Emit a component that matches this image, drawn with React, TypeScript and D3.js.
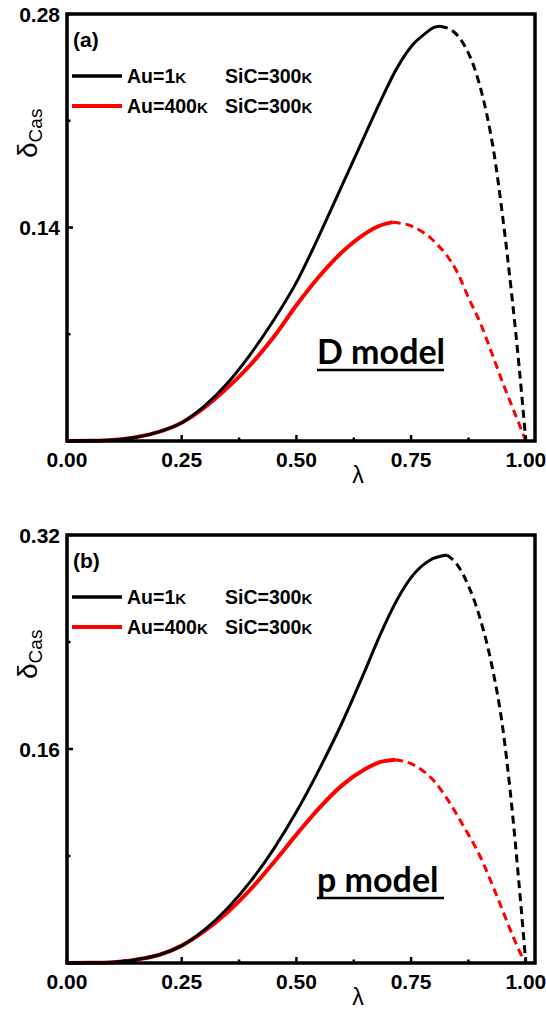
import React from "react";
import * as d3 from "d3";

// ---------- data ----------
const xTickValues = [0, 0.25, 0.5, 0.75, 1.0];
const xTickLabels = ["0.00", "0.25", "0.50", "0.75", "1.00"];
const xMinorTicks = [0.125, 0.375, 0.625, 0.875];

const yTicksA = [0.14, 0.28];
const yTickLabelsA = ["0.14", "0.28"];
const yMinorA = [0.07, 0.21];

const yTicksB = [0.16, 0.32];
const yTickLabelsB = ["0.16", "0.32"];
const yMinorB = [0.08, 0.24];

const legendNames = ["Au=1", "Au=400"];
const legendSiC = "SiC=300";

// Panel (a): D model
const aAu1SolidLam = [0, 0.05, 0.1, 0.125, 0.15, 0.2, 0.25, 0.3, 0.35, 0.4, 0.45, 0.5, 0.55, 0.6, 0.65, 0.682, 0.72, 0.754, 0.78, 0.8, 0.813];
const aAu1SolidVal = [0, 0.0001, 0.0006, 0.0013, 0.0025, 0.006, 0.012, 0.023, 0.038, 0.057, 0.079, 0.104, 0.135, 0.168, 0.201, 0.222, 0.245, 0.26, 0.267, 0.2712, 0.272];
const aAu1DashLam = [0.813, 0.84, 0.861, 0.894, 0.915, 0.93, 0.95, 0.97, 0.985, 1.0];
const aAu1DashVal = [0.272, 0.269, 0.262, 0.239, 0.214, 0.19, 0.146, 0.094, 0.05, 0];
const aAu400SolidLam = [0, 0.05, 0.1, 0.125, 0.15, 0.2, 0.25, 0.3, 0.35, 0.4, 0.45, 0.5, 0.55, 0.6, 0.65, 0.68, 0.71];
const aAu400SolidVal = [0, 0.0001, 0.0006, 0.0013, 0.0025, 0.006, 0.012, 0.022, 0.035, 0.05, 0.068, 0.089, 0.108, 0.124, 0.136, 0.141, 0.1435];
const aAu400DashLam = [0.71, 0.75, 0.8, 0.85, 0.878, 0.9, 0.929, 0.95, 0.975, 1.0];
const aAu400DashVal = [0.1435, 0.141, 0.131, 0.111, 0.092, 0.078, 0.055, 0.038, 0.019, 0];

// Panel (b): p model
const bAu1SolidLam = [0, 0.05, 0.1, 0.125, 0.15, 0.2, 0.25, 0.3, 0.35, 0.4, 0.45, 0.5, 0.55, 0.6, 0.65, 0.682, 0.72, 0.754, 0.79, 0.828];
const bAu1SolidVal = [0, 0.0001, 0.0006, 0.0013, 0.0025, 0.006, 0.013, 0.025, 0.041, 0.061, 0.085, 0.113, 0.145, 0.18, 0.219, 0.245, 0.272, 0.29, 0.301, 0.305];
const bAu1DashLam = [0.828, 0.85, 0.875, 0.9, 0.925, 0.95, 0.97, 0.985, 1.0];
const bAu1DashVal = [0.305, 0.298, 0.282, 0.258, 0.224, 0.175, 0.115, 0.06, 0];
const bAu400SolidLam = [0, 0.05, 0.1, 0.125, 0.15, 0.2, 0.25, 0.3, 0.35, 0.4, 0.45, 0.5, 0.55, 0.6, 0.65, 0.68, 0.715];
const bAu400SolidVal = [0, 0.0001, 0.0006, 0.0013, 0.0025, 0.006, 0.013, 0.024, 0.038, 0.055, 0.075, 0.096, 0.116, 0.133, 0.145, 0.15, 0.152];
const bAu400DashLam = [0.715, 0.75, 0.8, 0.83, 0.863, 0.9, 0.937, 0.972, 0.99, 1.0];
const bAu400DashVal = [0.152, 0.149, 0.136, 0.122, 0.103, 0.08, 0.05, 0.02, 0.006, 0];

const zip = (xs: number[], ys: number[]) => xs.map((x, i) => [x, ys[i]] as [number, number]);

const panels = [
  {
    tag: "(a)",
    model: "D model",
    yMax: 0.28,
    yTicks: yTicksA,
    yTickLabels: yTickLabelsA,
    yMinor: yMinorA,
    top: 14,
    bottom: 441,
    au1Solid: zip(aAu1SolidLam, aAu1SolidVal),
    au1Dash: zip(aAu1DashLam, aAu1DashVal),
    au400Solid: zip(aAu400SolidLam, aAu400SolidVal),
    au400Dash: zip(aAu400DashLam, aAu400DashVal),
    modelBaselineOffset: 77,
  },
  {
    tag: "(b)",
    model: "p model",
    yMax: 0.32,
    yTicks: yTicksB,
    yTickLabels: yTickLabelsB,
    yMinor: yMinorB,
    top: 535,
    bottom: 963,
    au1Solid: zip(bAu1SolidLam, bAu1SolidVal),
    au1Dash: zip(bAu1DashLam, bAu1DashVal),
    au400Solid: zip(bAu400SolidLam, bAu400SolidVal),
    au400Dash: zip(bAu400DashLam, bAu400DashVal),
    modelBaselineOffset: 71,
  },
];

const LEFT = 67;
const RIGHT = 535;
const X_MAX = 1.02;
const RED = "#ff0000";
const TICK_FONT = "'Liberation Sans', Arial, sans-serif";

type Panel = (typeof panels)[number];

function PanelView({ p }: { p: Panel }) {
  const x = d3.scaleLinear().domain([0, X_MAX]).range([LEFT, RIGHT]);
  const y = d3.scaleLinear().domain([0, p.yMax]).range([p.bottom, p.top]);
  const line = d3
    .line<[number, number]>()
    .x((d) => x(d[0]))
    .y((d) => y(d[1]))
    .curve(d3.curveMonotoneX);

  const legendY1 = p.top + 62;
  const legendY2 = p.top + 92;
  const modelY = p.bottom - p.modelBaselineOffset;
  const modelX = 317;

  return (
    <g>
      {/* curves */}
      <path d={line(p.au400Solid) || ""} fill="none" stroke={RED} strokeWidth={4} />
      <path d={line(p.au400Dash) || ""} fill="none" stroke={RED} strokeWidth={3} strokeDasharray="8 5" />
      <path d={line(p.au1Solid) || ""} fill="none" stroke="#000" strokeWidth={3} />
      <path d={line(p.au1Dash) || ""} fill="none" stroke="#000" strokeWidth={3} strokeDasharray="8 5" />

      {/* frame */}
      <rect x={LEFT} y={p.top} width={RIGHT - LEFT} height={p.bottom - p.top} fill="none" stroke="#000" strokeWidth={3.5} />

      {/* x ticks */}
      {xTickValues.map((v, i) => (
        <g key={"xt" + i}>
          <line x1={x(v)} x2={x(v)} y1={p.bottom} y2={p.bottom - 6} stroke="#000" strokeWidth={2.5} />
          <text x={x(v)} y={p.bottom + 26} textAnchor="middle" fontFamily={TICK_FONT} fontWeight="bold" fontSize={21}>
            {xTickLabels[i]}
          </text>
        </g>
      ))}
      {xMinorTicks.map((v, i) => (
        <line key={"xm" + i} x1={x(v)} x2={x(v)} y1={p.bottom} y2={p.bottom - 3.5} stroke="#000" strokeWidth={2.5} />
      ))}

      {/* y ticks */}
      {p.yTicks.map((v, i) => (
        <g key={"yt" + i}>
          <line x1={LEFT} x2={LEFT + 6} y1={y(v)} y2={y(v)} stroke="#000" strokeWidth={2.5} />
          <text x={60} y={y(v) + 7.5} textAnchor="end" fontFamily={TICK_FONT} fontWeight="bold" fontSize={21}>
            {p.yTickLabels[i]}
          </text>
        </g>
      ))}
      {p.yMinor.map((v, i) => (
        <line key={"ym" + i} x1={LEFT} x2={LEFT + 3.5} y1={y(v)} y2={y(v)} stroke="#000" strokeWidth={2.5} />
      ))}

      {/* axis titles */}
      <text x={358} y={p.bottom + 42} textAnchor="middle" fontFamily={TICK_FONT} fontSize={23}>
        λ
      </text>
      <text transform={`translate(37, ${p.top + 144}) rotate(-90)`} fontFamily={TICK_FONT} fontSize={28}>
        δ
        <tspan dy={5} fontSize={19}>
          Cas
        </tspan>
      </text>

      {/* panel tag */}
      <text x={73} y={p.top + 33} fontFamily={TICK_FONT} fontWeight="bold" fontSize={21}>
        {p.tag}
      </text>

      {/* legend */}
      <line x1={72} x2={122} y1={legendY1} y2={legendY1} stroke="#000" strokeWidth={3.5} />
      <line x1={72} x2={122} y1={legendY2} y2={legendY2} stroke={RED} strokeWidth={4} />
      {[legendY1, legendY2].map((ly, i) => (
        <g key={"lg" + i} fontFamily={TICK_FONT} fontWeight="bold" fontSize={19.5}>
          <text x={127} y={ly + 7}>
            {legendNames[i]}
            <tspan fontSize={15}>K</tspan>
          </text>
          <text x={225} y={ly + 7}>
            {legendSiC}
            <tspan fontSize={15}>K</tspan>
          </text>
        </g>
      ))}

      {/* model label */}
      <text x={modelX} y={modelY} fontFamily="Lato, 'Open Sans', sans-serif" fontWeight="bold" fontSize={34}>
        {p.model}
      </text>
      <line x1={modelX} x2={modelX + 127} y1={modelY + 6} y2={modelY + 6} stroke="#000" strokeWidth={2.5} />
    </g>
  );
}

export default function App() {
  return (
    <svg
      width={546}
      height={1010}
      viewBox="0 0 546 1010"
      style={{ position: "absolute", left: 0, top: 0, background: "#fff" }}
    >
      <rect width={546} height={1010} fill="#fff" />
      {panels.map((p, i) => (
        <PanelView key={i} p={p} />
      ))}
    </svg>
  );
}
